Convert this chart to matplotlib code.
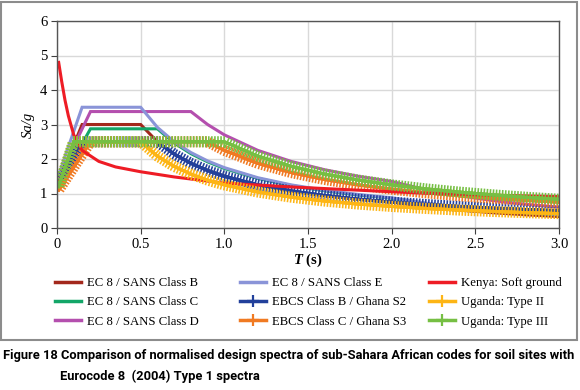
#!/usr/bin/env python3
"""Normalised design spectra of sub-Sahara African codes vs Eurocode 8 (soil sites)."""

import matplotlib
matplotlib.use("Agg")
import matplotlib.pyplot as plt
import matplotlib.patheffects as pe
from matplotlib.lines import Line2D
from matplotlib.patches import Rectangle

# --- data ---------------------------------------------------------------------
T_EC8 = [0.01, 0.15, 0.2, 0.5, 0.6, 0.7, 0.8, 0.9, 1.0, 1.2, 1.4, 1.6, 1.8,
         2.0, 2.2, 2.4, 2.6, 2.8, 3.0]
ec8_b = [1.32, 3.0, 3.0, 3.0, 2.5, 2.14, 1.875, 1.667, 1.5, 1.25, 1.071, 0.938,
         0.833, 0.75, 0.62, 0.521, 0.444, 0.383, 0.333]
ec8_c = [1.24, 2.44, 2.875, 2.875, 2.875, 2.464, 2.156, 1.917, 1.725, 1.438,
         1.232, 1.078, 0.958, 0.863, 0.713, 0.599, 0.51, 0.44, 0.383]
ec8_d = [1.45, 2.87, 3.375, 3.375, 3.375, 3.375, 3.375, 3.0, 2.7, 2.25, 1.929,
         1.688, 1.5, 1.35, 1.116, 0.938, 0.799, 0.689, 0.6]
ec8_e = [1.54, 3.5, 3.5, 3.5, 2.917, 2.5, 2.188, 1.944, 1.75, 1.458, 1.25,
         1.094, 0.972, 0.875, 0.723, 0.608, 0.518, 0.446, 0.389]

T_EBCS_B = [0.01, 0.15, 0.6, 0.7, 0.8, 0.9, 1.0, 1.2, 1.4, 1.6, 1.8, 2.0, 2.2,
            2.4, 2.6, 2.8, 3.0]
ebcs_b = [1.25, 2.5, 2.5, 2.143, 1.875, 1.667, 1.5, 1.25, 1.071, 0.938, 0.833,
          0.75, 0.682, 0.625, 0.577, 0.536, 0.5]

T_EBCS_C = [0.01, 0.2, 0.9, 1.0, 1.2, 1.4, 1.6, 1.8, 2.0, 2.2, 2.4, 2.6, 2.8, 3.0]
ebcs_c = [1.1, 2.5, 2.5, 2.25, 1.875, 1.607, 1.406, 1.25, 1.125, 1.023, 0.938,
          0.865, 0.804, 0.75]

T_KENYA = [0.01, 0.028, 0.048, 0.068, 0.1, 0.15, 0.25, 0.35, 0.5, 0.7, 1.0,
           1.4, 2.0, 2.2, 2.5, 3.0]
kenya = [4.8, 4.25, 3.7, 3.25, 2.7, 2.25, 1.93, 1.77, 1.63, 1.48, 1.3, 1.19,
         1.05, 1.01, 0.96, 0.91]

T_UG2 = [0.01, 0.1, 0.5, 0.6, 0.7, 0.8, 0.9, 1.0, 1.2, 1.4, 1.6, 1.8, 2.0,
         2.2, 2.4, 2.6, 2.8, 3.0]
uganda_2 = [1.2, 2.5, 2.5, 2.083, 1.786, 1.563, 1.389, 1.25, 1.042, 0.893,
            0.781, 0.694, 0.625, 0.568, 0.521, 0.481, 0.446, 0.417]

T_UG3 = [0.01, 0.1, 1.0, 1.2, 1.4, 1.6, 1.8, 2.0, 2.2, 2.4, 2.6, 2.8, 3.0]
uganda_3 = [1.2, 2.5, 2.5, 2.083, 1.786, 1.563, 1.389, 1.25, 1.136, 1.042,
            0.962, 0.893, 0.833]

X_TICKS = [0, 0.5, 1.0, 1.5, 2.0, 2.5, 3.0]
X_TICK_LABELS = ["0", "0.5", "1.0", "1.5", "2.0", "2.5", "3.0"]
Y_TICKS = [0, 1, 2, 3, 4, 5, 6]

SERIES = [
    ("EC 8 / SANS Class B", T_EC8, ec8_b, "#a3281c", False),
    ("EC 8 / SANS Class C", T_EC8, ec8_c, "#13a668", False),
    ("EC 8 / SANS Class D", T_EC8, ec8_d, "#b44fae", False),
    ("EC 8 / SANS Class E", T_EC8, ec8_e, "#8a94d8", False),
    ("EBCS Class B / Ghana S2", T_EBCS_B, ebcs_b, "#22409b", True),
    ("EBCS Class C / Ghana S3", T_EBCS_C, ebcs_c, "#f07a22", True),
    ("Kenya: Soft ground", T_KENYA, kenya, "#ee1c25", False),
    ("Uganda: Type II", T_UG2, uganda_2, "#fdb515", True),
    ("Uganda: Type III", T_UG3, uganda_3, "#76bf43", True),
]

CAPTION_1 = ("Figure 18 Comparison of normalised design spectra of sub-Sahara "
             "African codes for soil sites with")
CAPTION_2 = "Eurocode 8  (2004) Type 1 spectra"

SERIF = "Liberation Serif"
CAPTION_FONT = ["Roboto", "DejaVu Sans"]


def plus_effects():
    """Dense '+' markers along the line, like the spreadsheet original."""
    kw = dict(spacing=2.2, length=1.55, linewidth=1.15)
    return [pe.withTickedStroke(angle=90, **kw),
            pe.withTickedStroke(angle=-90, **kw),
            pe.Normal()]


def main() -> None:
    plt.rcParams["font.family"] = [SERIF, "DejaVu Serif"]
    plt.rcParams["mathtext.fontset"] = "custom"
    plt.rcParams["mathtext.it"] = SERIF + ":italic:bold"
    plt.rcParams["mathtext.rm"] = SERIF + ":bold"

    fig = plt.figure(figsize=(5.8, 3.9), dpi=100)
    W, H = 580, 390
    ax = fig.add_axes([57 / W, 1 - 228 / H, (559 - 57) / W, (228 - 21) / H])

    handles = []
    for label, t, y, color, marked in SERIES:
        line, = ax.plot(t, y, color=color, lw=2.2, solid_joinstyle="miter")
        if marked:
            line.set_path_effects(plus_effects())
            handles.append(Line2D([], [], color=color, lw=2.5, marker="+",
                                  markersize=9, markeredgewidth=1.6, label=label))
        else:
            handles.append(Line2D([], [], color=color, lw=2.5, label=label))

    ax.set_xlim(0, 3.0)
    ax.set_ylim(0, 6)
    ax.set_xticks(X_TICKS)
    ax.set_xticklabels(X_TICK_LABELS)
    ax.set_yticks(Y_TICKS)
    ax.tick_params(labelsize=10.5, direction="out", length=4, color="#404040",
                   pad=3)
    ax.grid(True, color="#d9d9d9", lw=1)
    ax.set_axisbelow(True)
    for sp in ax.spines.values():
        sp.set_color("#555555")
        sp.set_linewidth(1)

    ax.set_ylabel("Sa/g", fontstyle="italic", fontsize=10.5, labelpad=4)
    ax.set_xlabel("$T$ (s)", fontsize=10.5, fontweight="bold", labelpad=1)

    # three legend columns, placed like the original
    cols = [(55, handles[0:3]), (240, handles[3:6]), (429, handles[6:9])]
    for x0, hs in cols:
        fig.legend(handles=hs, loc="upper left",
                   bbox_to_anchor=(x0 / W, 1 - 277 / H),
                   frameon=False, fontsize=9.2, handlelength=2.0,
                   handletextpad=0.5, labelspacing=0.58, borderpad=0,
                   borderaxespad=0)

    # grey frame around chart region
    fig.patches.append(Rectangle((1 / W, 1 - 340 / H), 576 / W, 338 / H,
                                 transform=fig.transFigure, fill=False,
                                 edgecolor="#8c8c8c", lw=1.5))

    cap1 = fig.text(3 / W, 1 - 356 / H, CAPTION_1, family=CAPTION_FONT,
                    fontweight="bold", fontsize=10, va="center")
    cap2 = fig.text(60 / W, 1 - 376 / H, CAPTION_2, family=CAPTION_FONT,
                    fontweight="bold", fontsize=10, va="center")

    # shrink caption so the first line spans the figure width like the original
    renderer = fig.canvas.get_renderer()
    width = cap1.get_window_extent(renderer).width
    size = 10 * 573 / width
    cap1.set_fontsize(size)
    cap2.set_fontsize(size)

    fig.savefig("out.png", dpi=100)
    plt.close(fig)


if __name__ == "__main__":
    main()
